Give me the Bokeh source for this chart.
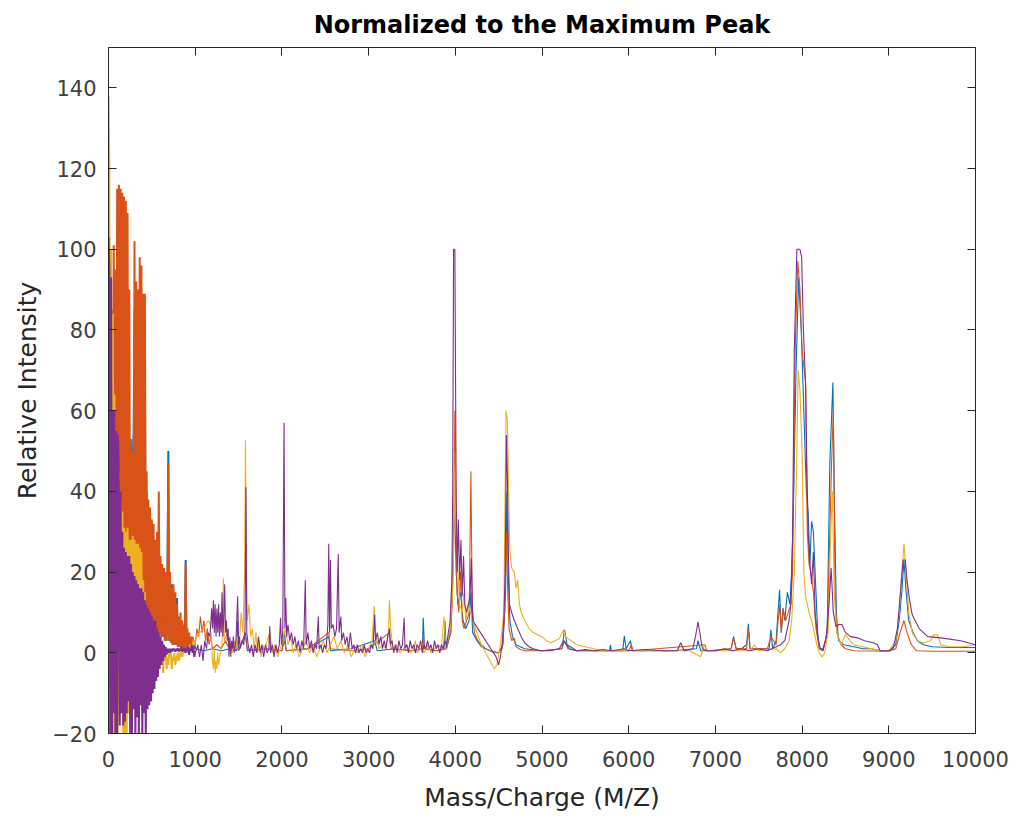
from bokeh.plotting import figure
from bokeh.models import LinearAxis, FixedTicker, Range1d, CustomJSTickFormatter
from bokeh.embed import file_html
from bokeh.resources import INLINE

# ---------------- data ----------------
# dense low-mass region (m/z 0..1000)
mz_low = [0, 10, 20, 30, 40, 50, 60, 70, 80, 90, 100, 110, 120, 130, 140, 150, 160, 170, 180, 190,
          200, 210, 220, 230, 240, 250, 260, 270, 280, 290, 300, 310, 320, 330, 340, 350, 360, 370, 380, 390,
          400, 410, 420, 430, 440, 450, 460, 470, 480, 490, 500, 510, 520, 530, 540, 550, 560, 570, 580, 590,
          600, 610, 620, 630, 640, 650, 660, 670, 680, 690, 700, 710, 720, 730, 740, 750, 760, 770, 780, 790,
          800, 810, 820, 830, 840, 850, 860, 870, 880, 890, 900, 910, 920, 930, 940, 950, 960, 970, 980, 990, 1000]

blue_low = [80, 10, 70, 15, 60, 20, 80, 30, 70, 25, 95, 20, 100, 15, 95, 20, 90, 22, 95, 20,
            85, 20, 90, 18, 48, 15, 45, 20, 48, 55, 85, 15, 80, 20, 85, 15, 80, 15, 85, 12,
            75, 12, 70, 12, 40, 10, 32, 9, 30, 8, 28, 7, 26, 6, 25, 6, 27, 5, 20, 5,
            18, 4, 18, 4, 17, 3, 15, 3, 16, 50, 3, 17, 2.5, 17, 2, 14, 2, 13, 2, 13.6,
            1.5, 8, 1.5, 8, 1, 7, 1, 6, 1, 23, 1, 5, 1, 4, 1, 3, 1, 3, 1, 2, 1]

orange_low = [70, 20, 80, 30, 85, 40, 101, 50, 95, 40, 115, 30, 116, 25, 115, 20, 114, 30, 113, 20,
              112, 25, 109, 20, 90, 15, 53, 18, 50, 20, 102, 15, 92, 20, 90, 18, 98, 15, 96, 14,
              89, 12, 89, 12, 45, 10, 38, 9, 36, 8, 33, 7, 32, 6, 28, 6, 30, 5, 40, 5,
              24, 4, 22, 4, 21, 3, 20, 3, 18, 47, 3, 20, 2.5, 16, 2, 17, 2, 15, 2, 12,
              1.5, 9, 1.5, 10, 1, 8, 1, 7, 1, 22, 1, 6, 1, 5, 1, 4, 1, 4, 1.5, 3, 2]

yellow_low = [138, 120, -20, 100, -22, 84, -20, 64, -22, 50, -22, -15, 45, -14, 38, -12, 35, -20, 31, -22,
              30, -22, 31, -15, 28, -14, 28, -12, 29, -10, 28, -12, 27, -9, 27, -10, 26, -8, 25, -6,
              18, -5, 15, -4, 12, -6, 10, -4, 9, -3, 8, -5, 7, -3, 6, -2, 5, -4, 4, -2,
              3, -3, 2, -5, 1, -2, 0, -4, -1, -3, 0, -1, 0, -4, -1, -2, 0, -3, -2, -1,
              0, -2, -1, 0, 0, -1, 0, 0, 1, 0, 1, 0, 1, 1, 2, 1, 2, 2, 3, 2, 3]

purple_low = [103, 95, -20, 93, -22, 60, -15, 60, -22, 55, -22, 54, 42, -18, 40, -15, 30, -18, 26, -17,
              25, -15, 24, -12, 24, -22, 22, -22, 20, -14, 19, -22, 18, -16, 17, -22, 16, -13, 16, -22,
              15, -15, 13, -22, 12, -14, 11, -13, 10, -12, 9, -10, 8, -9, 8, -7, 6, -6, 5, -4,
              4, -3, 3, -2, 2, -1, 1.5, -0.5, 1, 0, 1, 0, 1, 0.3, 1, 0.5, 1, 0.3, 1, 0.5,
              1.2, 0.3, 1, 0.5, 1.5, 0.3, 1, 0.5, 1.2, 0, 1, 0.5, 1.5, -0.5, 1, 0.5, 2, 0, 1, -1, 0.5]

# remaining range (m/z, relative intensity)
blue_tail = [(1100, 0.5), (1200, 1), (1300, 0.5), (1400, 1), (1480, 0.5), (1490, 8), (1500, 0.5),
             (1580, 5), (1600, 0.5), (1800, 1), (2000, 0.5), (2030, 5), (2050, 0.5), (2300, 1),
             (2540, 4), (2560, 0.5), (2800, 1), (3070, 3), (3100, 0.5), (3300, 1), (3500, 0.5),
             (3620, 1), (3630, 8.7), (3645, 1), (3780, 0.5), (3870, 1), (3880, 8), (3895, 1),
             (3950, 5), (3980, 30), (3995, 35), (4010, 20), (4030, 12), (4060, 15), (4090, 8),
             (4120, 6), (4160, 8), (4180, 15), (4200, 5), (4250, 3), (4300, 1.5), (4400, 0.5),
             (4500, 0), (4550, 2), (4580, 15), (4595, 40), (4610, 20), (4630, 8), (4660, 4),
             (4700, 2), (4800, 1), (5000, 0.5), (5230, 1), (5260, 5.7), (5290, 2), (5400, 0.5),
             (5600, 0.5), (5780, 0.5), (5790, 2), (5800, 0.5), (5930, 0.5), (5950, 4.2), (5970, 1),
             (6020, 3), (6040, 0.5), (6200, 0.5), (6500, 0.5), (6780, 1), (6800, 3), (6830, 0.5),
             (7000, 0.5), (7180, 1), (7210, 4), (7240, 1), (7300, 1), (7360, 2), (7380, 7.2),
             (7400, 1), (7500, 1), (7620, 1), (7640, 5.7), (7660, 1), (7700, 3), (7740, 15.6),
             (7760, 5), (7780, 11), (7800, 8), (7830, 15), (7860, 12), (7880, 20.5), (7900, 36),
             (7930, 70), (7960, 93), (7990, 80), (8020, 60), (8040, 46), (8050, 39.6), (8070, 34.6),
             (8090, 22), (8110, 32.6), (8130, 30), (8150, 20), (8180, 5), (8200, 1), (8240, 1),
             (8270, 3), (8290, 6), (8320, 47), (8355, 67), (8375, 35), (8395, 10), (8420, 3),
             (8480, 2), (8600, 1.5), (8700, 1), (8800, 1), (8900, 0.5), (9000, 0.5), (9080, 2),
             (9120, 8), (9150, 15), (9175, 23), (9200, 15), (9230, 8), (9280, 5), (9330, 3),
             (9400, 2), (9500, 1.5), (9700, 1.3), (9900, 1.3), (10000, 1.3)]

orange_tail = [(1020, 6), (1040, 4), (1060, 9), (1080, 5), (1100, 8), (1120, 3), (1140, 6), (1160, 2),
               (1180, 4), (1200, 1), (1250, 2), (1300, 1), (1350, 3), (1400, 0.5), (1500, 1), (1580, 4),
               (1600, 1), (1700, 0.5), (1800, 1), (2000, 0.5), (2030, 3), (2050, 0.5), (2300, 1),
               (2540, 5), (2560, 1), (2800, 0.5), (3000, 1), (3240, 5), (3260, 1), (3500, 0.5),
               (3620, 1), (3630, 4), (3645, 1), (3800, 0.5), (3900, 1), (3940, 5), (3960, 10),
               (3980, 25), (3995, 60), (4005, 40), (4020, 15), (4040, 10), (4060, 20), (4080, 8),
               (4100, 6), (4130, 8), (4160, 10), (4180, 45), (4195, 12), (4220, 5), (4260, 3),
               (4300, 2), (4350, 1), (4400, 0.5), (4450, 0), (4500, 0), (4540, 1), (4570, 10),
               (4590, 30), (4605, 15), (4620, 6), (4650, 3), (4680, 3.7), (4700, 1.5), (4750, 0.8),
               (4800, 0.5), (5000, 0.5), (5230, 1), (5260, 3), (5300, 1), (5400, 0.5), (6000, 0.5),
               (6030, 2), (6050, 0.5), (6880, 2), (6900, 0.5), (7180, 1), (7210, 3.5), (7240, 1),
               (7360, 1), (7380, 5.8), (7400, 1), (7600, 1), (7640, 4), (7700, 2), (7740, 12),
               (7760, 5), (7780, 11), (7810, 8), (7840, 10), (7870, 12), (7890, 20), (7920, 75),
               (7950, 97), (7975, 90), (8000, 75), (8040, 67), (8060, 30), (8080, 22), (8100, 20),
               (8130, 15), (8160, 6), (8200, 1), (8240, 0.5), (8290, 5), (8320, 30), (8340, 47),
               (8360, 60), (8380, 15), (8400, 5), (8450, 2), (8500, 1), (8600, 0.5), (9000, 0.4),
               (9080, 1), (9130, 5), (9175, 8), (9210, 5), (9260, 2), (9320, 0.5), (9500, 0.4),
               (10000, 0.4)]

yellow_tail = [(1020, 4), (1050, 5), (1100, 6), (1150, 8), (1175, 7), (1190, 2), (1200, -2), (1210, -4),
               (1220, 1), (1230, -5), (1240, -2), (1250, -4), (1260, 0), (1270, -3), (1290, 0), (1310, 2),
               (1325, 18.5), (1335, 3), (1370, 5), (1390, 1), (1410, 2), (1430, 0), (1450, 3), (1470, 1),
               (1490, 4), (1510, 2), (1530, 10), (1550, 5), (1570, 20), (1580, 52.7), (1590, 21),
               (1600, 8), (1620, 12), (1640, 4), (1660, 6), (1680, 1), (1700, 5), (1720, 0), (1740, 3),
               (1760, -1), (1780, 2), (1800, 0), (1830, 3), (1860, 5), (1890, 0), (1920, 2), (1950, -1),
               (1980, 1), (2010, 3), (2040, 6), (2070, 2), (2100, 4), (2130, 0), (2160, 2), (2200, -1),
               (2240, 1), (2280, 3), (2320, 0), (2360, 2), (2400, -1), (2440, 1), (2480, 3), (2520, 0),
               (2560, 2), (2600, 4), (2640, 1), (2680, 3), (2720, 0), (2760, 2), (2800, -1), (2840, 1),
               (2880, 0), (2920, 2), (2960, -1), (3000, 1), (3040, 3), (3065, 11.6), (3080, 4),
               (3120, 1), (3160, 2), (3200, 1), (3230, 5), (3240, 13), (3255, 6), (3280, 1), (3320, 2),
               (3360, 0), (3400, 1), (3440, 2), (3480, 0), (3520, 1), (3540, 3), (3560, 0), (3600, 1),
               (3640, 0), (3680, 2), (3720, 0), (3760, 1), (3800, 2), (3840, 1), (3870, 9), (3885, 3),
               (3900, 2), (3940, 6), (3970, 15), (3990, 35), (4000, 50), (4010, 30), (4030, 20),
               (4050, 12), (4080, 10), (4100, 15), (4120, 8), (4150, 12), (4200, 8), (4250, 5),
               (4300, 2), (4350, 0), (4400, -2), (4450, -4), (4480, -3), (4520, 2), (4560, 10),
               (4585, 60), (4600, 58), (4615, 40), (4630, 25), (4650, 21), (4680, 20), (4700, 16),
               (4720, 18), (4740, 12), (4760, 10), (4800, 8), (4850, 6), (4900, 5), (4950, 4.5),
               (5000, 4), (5050, 3), (5100, 2.5), (5150, 3), (5200, 3.5), (5250, 5.7), (5270, 4),
               (5300, 3.5), (5400, 2), (5500, 1.5), (5600, 1), (5700, 0.5), (6700, 0.5), (6830, -1),
               (6870, 2), (6900, 0.5), (7400, 0.5), (7450, 2), (7500, 0.5), (7700, 1), (7750, 0),
               (7800, 1), (7850, 3), (7880, 8), (7910, 20), (7935, 45), (7955, 70), (7975, 65),
               (8000, 50), (8020, 20), (8040, 14), (8060, 12), (8080, 10), (8110, 8), (8140, 5),
               (8170, 2), (8200, 0), (8230, -1), (8260, 0), (8300, 5), (8330, 30), (8350, 40),
               (8370, 15), (8400, 5), (8450, 2), (8500, 4.5), (8550, 3), (8600, 2), (8700, 1.5),
               (8800, 1), (8900, 0.5), (9000, 0.5), (9080, 3), (9120, 10), (9150, 20), (9175, 27),
               (9200, 20), (9230, 10), (9270, 5), (9330, 3), (9400, 2.5), (9480, 3), (9520, 4.5),
               (9560, 4.5), (9600, 2), (9700, 1.5), (9850, 1.5), (10000, 2)]

purple_tail = [(1010, 0.5), (1030, 2), (1050, -1), (1070, 2), (1090, -2), (1110, 3), (1130, 1), (1150, 5),
               (1170, 4), (1190, 11), (1200, 6), (1210, 13), (1220, 5), (1230, 12), (1240, 4), (1250, 11),
               (1260, 5), (1270, 12), (1280, 4), (1290, 10), (1300, 5), (1310, 15), (1320, 4), (1330, 9),
               (1340, 17), (1350, 5), (1360, 8), (1370, 3), (1380, 6), (1390, -1), (1400, 4), (1410, -1),
               (1420, 3), (1430, 1), (1440, 4), (1450, 0), (1470, 3), (1490, 14), (1500, 2), (1510, 4),
               (1520, 1), (1540, 3), (1560, 2), (1575, 6), (1585, 41), (1595, 5), (1610, 2), (1630, 0),
               (1650, 2), (1670, -1), (1690, 2), (1710, 0), (1730, 4), (1750, 0), (1770, 2), (1790, -1),
               (1810, 2), (1830, 0), (1850, 1), (1860, 6.6), (1870, 0), (1890, 2), (1910, -1), (1930, 2),
               (1950, 0), (1970, 2), (1985, 8.7), (1995, 2), (2010, 5), (2025, 57), (2035, 6),
               (2045, 13.6), (2055, 4), (2070, 7), (2090, 3), (2110, 5), (2130, 2), (2150, 4), (2170, 1),
               (2190, 3), (2210, 0), (2230, 3), (2250, 1), (2270, 18), (2280, 2), (2300, 5), (2320, 1),
               (2340, 3), (2360, 0), (2380, 2), (2400, 1), (2420, 9), (2430, 1), (2450, 2), (2470, 0),
               (2490, 2), (2510, 1), (2530, 7), (2540, 27), (2550, 5), (2560, 23), (2570, 6), (2590, 7),
               (2610, 4), (2630, 6), (2650, 24.5), (2660, 5), (2680, 9), (2690, 3), (2710, 5), (2730, 2),
               (2750, 4), (2770, 1), (2790, 5), (2810, 1), (2830, 2), (2850, 0), (2870, 2), (2890, 0),
               (2910, 1), (2930, 0), (2950, 2), (2970, 0), (2990, 1), (3010, 0), (3030, 2), (3050, 1),
               (3070, 9.4), (3080, 3), (3100, 5), (3120, 2), (3140, 4), (3160, 1), (3180, 3), (3200, 1),
               (3220, 4), (3240, 6), (3250, 2), (3270, 3), (3290, 0), (3310, 2), (3330, 0), (3350, 3),
               (3370, 1), (3390, 2), (3410, 8.7), (3420, 1), (3440, 2), (3460, 0), (3480, 3), (3500, 1),
               (3520, 2), (3540, 0), (3560, 2), (3580, 1), (3600, 3), (3620, 0), (3640, 2), (3660, 1),
               (3680, 3), (3700, 1), (3720, 2), (3740, 0), (3760, 3), (3780, 1), (3800, 2), (3820, 0),
               (3840, 2), (3860, 1), (3880, 3), (3900, 2), (3920, 5), (3940, 8), (3950, 13), (3960, 18),
               (3970, 40), (3980, 100), (3995, 100), (4010, 39), (4022, 20), (4035, 33), (4050, 18),
               (4065, 28), (4080, 14), (4095, 24), (4110, 12), (4130, 10), (4150, 12), (4170, 14),
               (4185, 23.5), (4200, 8), (4230, 7), (4260, 6), (4290, 5), (4320, 4), (4350, 3), (4380, 2),
               (4410, 1), (4440, 0), (4470, -1), (4500, -3), (4520, -1), (4540, 2), (4560, 8), (4575, 20),
               (4590, 54), (4600, 44), (4612, 25), (4625, 12), (4650, 10), (4680, 8), (4720, 6),
               (4760, 4), (4800, 2.5), (4850, 1.5), (4900, 1), (4950, 0.7), (5000, 0.5), (5100, 0.5),
               (5200, 1), (5250, 3), (5280, 2), (5320, 1), (5400, 0.5), (5500, 0.8), (5600, 0.5),
               (5700, 0.8), (5800, 0.5), (5950, 1), (6000, 0.5), (6200, 0.8), (6400, 0.5), (6560, 0.5),
               (6600, 2.5), (6640, 0.5), (6740, 1), (6770, 4), (6800, 7.7), (6820, 5), (6850, 1),
               (6900, 0.5), (7000, 0.5), (7100, 1), (7200, 0.5), (7300, 1), (7400, 0.5), (7500, 1),
               (7600, 0.5), (7700, 1.5), (7750, 2), (7800, 3), (7850, 8), (7870, 12), (7890, 28),
               (7910, 75), (7940, 100), (7975, 100), (7995, 98), (8015, 80), (8040, 67), (8055, 46),
               (8070, 30), (8090, 22), (8110, 17), (8130, 25), (8150, 10), (8180, 4), (8210, 1),
               (8240, 0.5), (8280, 4), (8310, 12), (8335, 21), (8360, 10), (8390, 6.5), (8420, 7),
               (8460, 7), (8500, 5), (8560, 4), (8640, 3.7), (8720, 3), (8820, 2.5), (8870, 2),
               (8900, 0.5), (9000, 0.5), (9050, 1), (9100, 6), (9130, 14), (9165, 23), (9190, 23),
               (9210, 18), (9240, 13), (9270, 9.4), (9350, 6), (9450, 4), (9600, 3.7), (9830, 3),
               (10000, 2)]

x_ticks = [0, 1000, 2000, 3000, 4000, 5000, 6000, 7000, 8000, 9000, 10000]
y_ticks = [-20, 0, 20, 40, 60, 80, 100, 120, 140]

series = [
    ("#0072BD", blue_low, blue_tail),
    ("#D95319", orange_low, orange_tail),
    ("#EDB120", yellow_low, yellow_tail),
    ("#7E2F8E", purple_low, purple_tail),
]

# ---------------- figure ----------------
TXT = "#262626"
FONT = "DejaVu Sans"

p = figure(width=1010, height=819, output_backend="svg", toolbar_location=None,
           x_range=Range1d(0, 10000), y_range=Range1d(-20, 150),
           min_border_left=108, min_border_right=35, min_border_top=47, min_border_bottom=86,
           title="Normalized to the Maximum Peak")
p.outline_line_color = None
p.grid.visible = False
p.background_fill_color = "white"
p.border_fill_color = "white"

p.title.align = "center"
p.title.text_font = FONT
p.title.text_font_style = "bold"
p.title.text_font_size = "24px"
p.title.text_color = "black"
p.title.standoff = 17

for ax, ticks in ((p.xaxis[0], x_ticks), (p.yaxis[0], y_ticks)):
    ax.ticker = FixedTicker(ticks=ticks)
    ax.major_tick_in = 8
    ax.major_tick_out = 0
    ax.minor_tick_line_color = None
    ax.axis_line_color = TXT
    ax.major_tick_line_color = TXT
    ax.major_label_text_font = FONT
    ax.major_label_text_font_size = "21px"
    ax.major_label_text_color = "#404040"
    ax.axis_label_text_font = FONT
    ax.axis_label_text_font_size = "25px"
    ax.axis_label_text_font_style = "normal"
    ax.axis_label_text_color = TXT

p.xaxis[0].axis_label = "Mass/Charge (M/Z)"
p.yaxis[0].axis_label = "Relative Intensity"
p.xaxis[0].major_label_standoff = 17
p.xaxis[0].axis_label_standoff = 13
p.yaxis[0].major_label_standoff = 12
p.yaxis[0].axis_label_standoff = 7

blank = CustomJSTickFormatter(code="return ''")
top = LinearAxis(ticker=FixedTicker(ticks=x_ticks), formatter=blank,
                 major_tick_in=8, major_tick_out=0, minor_tick_line_color=None,
                 axis_line_color=TXT, major_tick_line_color=TXT)
right = LinearAxis(ticker=FixedTicker(ticks=y_ticks), formatter=blank,
                   major_tick_in=8, major_tick_out=0, minor_tick_line_color=None,
                   axis_line_color=TXT, major_tick_line_color=TXT)
p.add_layout(top, "above")
p.add_layout(right, "right")

for color, low, tail in series:
    # dense, noisy low-mass part drawn a little heavier so it reads as a filled band
    p.line(mz_low, low, line_color=color, line_width=2.0)
    xs = [mz_low[-1]] + [t[0] for t in tail]
    ys = [low[-1]] + [t[1] for t in tail]
    p.line(xs, ys, line_color=color, line_width=1.1)

open("out.html", "w").write(file_html(p, INLINE))
